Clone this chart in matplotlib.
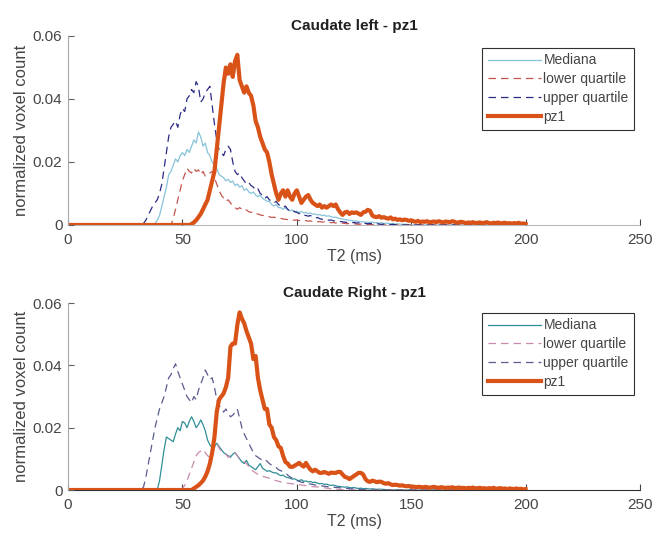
import numpy as np
import matplotlib
matplotlib.use("Agg")
import matplotlib.pyplot as plt

plt.rcParams["font.family"] = ["Liberation Sans", "DejaVu Sans"]

# histogram bins are 1 ms wide, series values given from T2 = 30 ms on (x1e-3)
T2_START = 30
T2_END = 200

left_pz1 = [0]*24 + [
    0.3, 0.8, 1.5, 2.5, 3.5, 5.0, 6.5, 8.0, 11, 14, 17, 24, 31, 38, 45, 50,
    48, 51, 47, 52, 54, 46, 44, 42, 44, 42, 41, 38, 33, 31, 28, 26, 24, 23, 20, 16,
    13, 10, 8, 10, 11, 9, 11, 9, 8, 10, 11, 9, 7, 8, 9, 9.5, 8, 7, 6.5, 6,
    6.5, 5.5, 6, 5.5, 6, 6.5, 6, 6.5, 5, 4, 3.2, 4, 4.2, 3.5, 4, 3.8, 4, 3.6,
    3.2, 4, 4.2, 4.8, 4.5, 3, 2.6, 2.5, 2.8, 2.3, 2.5, 2.2, 2.0, 2.4, 1.8, 2.0,
    1.6, 1.8, 1.5, 1.7, 1.6, 1.3, 1.5,
    1.2, 1.0, 1.3, 0.9, 1.1, 1.0, 1.2, 0.8, 1.0, 1.1, 0.9, 1.2, 1.0, 0.8, 1.1, 1.0,
    0.9, 1.2, 1.0, 0.7, 0.9, 1.0, 0.8, 0.6, 0.8, 0.7, 0.9, 0.6, 0.7, 0.8, 0.6, 0.7,
    0.9, 0.6, 0.5, 0.7, 0.6, 0.8, 0.5, 0.6, 0.7, 0.5, 0.6, 0.4, 0.6, 0.5, 0.7, 0.4,
    0.5, 0.3]

left_median = [0]*8 + [
    0.5, 1.5, 3, 6, 9, 12, 16, 17, 19, 21, 20, 22, 23, 22, 24, 23, 25, 27, 26, 29.5,
    28, 25, 26, 23, 22, 20, 19, 18, 16, 15.5, 15, 14, 14.5, 13.5, 14, 12.5, 13, 12,
    12.5, 11, 11.5, 10.5, 10, 10.5, 9.5, 9, 9.5, 8.5, 8, 7.5, 7.5, 6.5, 6, 6.5, 5.5,
    5.5, 5, 5.5, 4.8, 4.5, 4.8, 4.2, 4.4, 4.0, 4.3, 3.8, 4.0, 3.6, 3.8, 3.4, 3.5,
    3.2, 3.3, 3.0, 3.1, 2.8, 2.9, 2.6, 2.4, 2.5, 2.2, 2.0, 1.9, 1.7, 1.6, 1.5, 1.4,
    1.2, 1.3, 1.1, 1.0, 1.0, 0.9,
    0.9, 0.8, 0.9, 0.7, 0.8, 0.6, 0.7, 0.5, 0.6, 0.5, 0.4, 0.5, 0.3, 0.4, 0.3, 0.2,
    0.3, 0.2, 0.1, 0.1]

left_lower = [0]*16 + [
    2, 5, 8, 11, 14, 16, 18, 17, 16.5, 18, 17, 17.5, 16, 17, 15.5, 16, 16.5, 17,
    15, 13, 11, 9.5, 8.5, 7.5, 8, 7, 6, 5.5, 5, 5.5, 5, 4.5, 4.8, 4.2, 4, 4.2, 3.6,
    3.5, 3.2, 3.0, 3.1, 2.7, 2.6, 2.4, 2.5, 2.2, 2.0, 2.1, 1.9, 1.8, 1.7, 1.8, 1.6,
    1.5, 1.6,
    1.4, 1.5, 1.3, 1.4, 1.2, 1.3, 1.1, 1.2, 1.0, 1.1, 0.9, 1.0, 0.8, 0.9, 0.7, 0.8,
    0.6, 0.7, 0.5, 0.6, 0.5, 0.4, 0.5, 0.3, 0.4, 0.3, 0.2, 0.3, 0.2, 0.2, 0.1, 0.2,
    0.1, 0.1]

left_upper = [0]*3 + [
    0.5, 1.5, 3, 4.5, 6, 7, 8, 10, 13, 18, 23, 28, 31, 32, 33, 31, 35, 37, 36, 40,
    41, 43, 42, 45.5, 44, 39, 40, 42, 43, 44, 38, 32, 27, 24, 23, 22, 24, 25, 24, 20,
    17, 16, 16.5, 15, 14, 13, 13.5, 12.5, 12, 11, 11.5, 10, 9.5, 8.5, 9, 8, 7.5, 7,
    7.5, 6.5, 6, 5.5, 6, 5, 4.5, 4.8, 4.2, 4, 3.6, 3.8, 3.2, 3.0, 2.8, 3.0, 2.5, 2.2,
    2.4, 2.0, 1.8, 1.9, 1.6, 1.5, 1.6, 1.3, 1.2, 1.3, 1.1, 1.0,
    0.9, 0.8, 0.9, 0.7, 0.8, 0.6, 0.7, 0.5, 0.6, 0.5, 0.4, 0.5, 0.4, 0.3, 0.4, 0.3,
    0.2, 0.3, 0.2, 0.2, 0.1, 0.2, 0.1, 0.1, 0.1]

right_pz1 = [0]*25 + [
    0.5, 1, 1.5, 2.2, 3, 4.3, 6, 8.5, 12, 17, 25, 29, 30, 31, 33, 36, 46, 47, 47,
    53, 57, 55, 53.5, 51, 49, 47, 42, 43, 36, 32, 29, 26, 26, 21, 20, 17, 16, 14,
    13.5, 11, 9, 8.5, 7.5, 7.4, 7.8, 8.2, 8.7, 8, 7.5, 8.7, 7.5, 6.5, 6, 6.5, 6,
    5.5, 5.5, 5.8, 5.5, 5.2, 5.6, 5.5, 5.5, 5.8, 5.8, 5, 4.2, 4, 3.5, 4, 4.5, 5,
    5.5, 5.5, 5, 3.5, 2.8, 2.6, 3, 2.8, 2.5, 2.7, 2.6, 2.2, 2.0, 2.2, 1.8, 1.6, 1.7,
    1.6, 1.4, 1.5, 1.3, 1.2, 1.3, 1.0,
    1.1, 0.9, 1.0, 1.0, 0.8, 1.0, 0.9, 0.7, 0.9, 1.0, 0.8, 0.7, 0.9, 0.8, 0.6, 0.8,
    0.7, 0.9, 0.6, 0.7, 0.8, 0.6, 0.7, 0.5, 0.7, 0.6, 0.8, 0.5, 0.6, 0.7, 0.5, 0.6,
    0.4, 0.6, 0.5, 0.7, 0.4, 0.5, 0.6, 0.4, 0.5, 0.3, 0.5, 0.4, 0.3, 0.5, 0.3, 0.4,
    0.2, 0.3]

right_median = [0]*10 + [
    3, 8, 13, 17, 16.5, 16, 15.5, 18, 20, 19, 22, 21.5, 20, 22, 23.5, 22, 20, 21,
    22.5, 21, 19, 16, 14.5, 13.5, 14, 15, 14, 13, 12, 11.5, 11, 10.5, 11.5, 12, 11,
    10, 9, 8.5, 9.5, 8, 7.5, 7, 6.5, 7.5, 8.5, 7, 6.5, 6, 6.2, 5.8, 5.5, 5.5, 5, 4.6,
    4.8, 4.2, 4, 3.8, 3.5, 3.6, 3.2,
    3.0, 3.3, 2.8, 2.9, 2.6, 2.7, 2.4, 2.5, 2.2, 2.0, 2.1, 1.8, 1.9, 1.6, 1.5, 1.6,
    1.3, 1.2, 1.1, 1.0, 0.9, 1.0, 0.8, 0.7, 0.8, 0.6, 0.5, 0.6, 0.4, 0.5, 0.4, 0.3,
    0.4, 0.3, 0.2, 0.3, 0.2, 0.2, 0.1, 0.1, 0.1, 0.1]

right_lower = [0]*20 + [
    0.5, 1.5, 3, 5, 7, 9, 11, 12, 12.5, 13, 12, 11, 10.5, 12, 13.5, 15, 13.5, 12.5,
    12, 11.5, 10.5, 11, 11.5, 12, 11, 10, 9.5, 9, 8.5, 7.5, 6.5, 6, 5.5, 5, 4.6,
    4.4, 4.2, 4, 3.8, 3.4, 3.2, 3.0, 2.8, 2.6, 2.5, 2.4, 2.2, 2.1, 2.0, 1.9, 1.8,
    1.7, 1.6, 1.5, 1.4, 1.3, 1.2, 1.1, 1.0, 1.0, 0.9, 0.8, 0.7, 0.6, 0.5, 0.4, 0.3,
    0.3, 0.2, 0.2, 0.1]

right_upper = [0]*3 + [
    1, 4, 8, 12, 16, 20, 23, 26, 28, 30, 33, 36, 37, 39, 40.5, 38, 36, 34, 32, 30,
    29, 28, 30, 29, 32, 34, 36, 38.5, 37, 35.5, 36, 33, 29, 27, 26.5, 25, 26, 24.5,
    23.5, 24, 25, 26, 23, 20, 18, 16.5, 15, 13.5, 12, 11, 10.5, 10, 9.5, 9.8, 9.2,
    8.5, 8, 7.5, 7.2, 6.5, 6.2, 5.8, 5.5, 4.8, 4.2, 3.8, 3.5, 3.0,
    2.8, 2.5, 2.4, 2.2, 2.0, 1.9, 1.8, 1.6, 1.5, 1.4, 1.3, 1.2, 1.1, 1.0, 1.0, 0.9,
    0.8, 0.8, 0.7, 0.6, 0.5, 0.5, 0.4, 0.4, 0.3, 0.3, 0.2, 0.2, 0.1, 0.1]

panels = [
    ("Caudate left - pz1", left_median, left_lower, left_upper, left_pz1,
     ["#86c3da", "#c4554e", "#2b2b86"], "#b8b8b8", 0.937),
    ("Caudate Right - pz1", right_median, right_lower, right_upper, right_pz1,
     ["#2f8f96", "#c98aae", "#5b5b92"], "#303030", 0.947),
]

t = np.arange(0, T2_END + 1)


def full(vals):
    y = np.zeros(len(t))
    y[T2_START:T2_START + len(vals)] = np.array(vals) * 1e-3
    return y


fig = plt.figure(figsize=(6.63, 5.39), dpi=100)
rects = [[0.1026, 0.5826, 0.8627, 0.3507], [0.1026, 0.0909, 0.8627, 0.3469]]

txt = "#454545"
for rect, (title, med, low, up, pz, cols, xcol, leg_y) in zip(rects, panels):
    ax = fig.add_axes(rect)
    ax.plot(t, full(med), color=cols[0], lw=0.9, label="Mediana")
    ax.plot(t, full(low), color=cols[1], lw=0.9, ls=(0, (6, 4)), label="lower quartile")
    ax.plot(t, full(up), color=cols[2], lw=0.9, ls=(0, (6, 4)), label="upper quartile")
    ax.plot(t, full(pz), color="#d95319", lw=3.0, label="pz1")

    ax.set_xlim(0, 250)
    ax.set_ylim(0, 0.06)
    ax.set_xticks([0, 50, 100, 150, 200, 250])
    ax.set_yticks([0, 0.02, 0.04, 0.06])
    ax.set_yticklabels(["0", "0.02", "0.04", "0.06"])
    ax.spines["top"].set_visible(False)
    ax.spines["right"].set_visible(False)
    ax.spines["left"].set_color("#a8a8a8")
    ax.spines["bottom"].set_color(xcol)
    ax.spines["bottom"].set_zorder(0)
    ax.tick_params(direction="in", length=4, width=0.8, colors=txt,
                   labelsize=11)
    ax.tick_params(axis="x", pad=6)
    ax.tick_params(axis="y", pad=4, colors="#606060", labelcolor=txt)
    ax.set_title(title, fontsize=11, fontweight="bold", color="#202020", pad=4)
    ax.set_xlabel("T2 (ms)", fontsize=11.5, color=txt, labelpad=1)
    ax.set_ylabel("normalized voxel count", fontsize=12, color=txt, labelpad=3)

    leg = ax.legend(loc="upper right", bbox_to_anchor=(0.99, leg_y), fontsize=10,
                    handlelength=3.8, handletextpad=0.2, borderpad=0.4,
                    labelspacing=0.35, fancybox=False, framealpha=1,
                    borderaxespad=0)
    leg.get_frame().set_edgecolor("#303030")
    leg.get_frame().set_linewidth(0.8)
    for tx in leg.get_texts():
        tx.set_color(txt)

fig.savefig("out.png", dpi=100)
